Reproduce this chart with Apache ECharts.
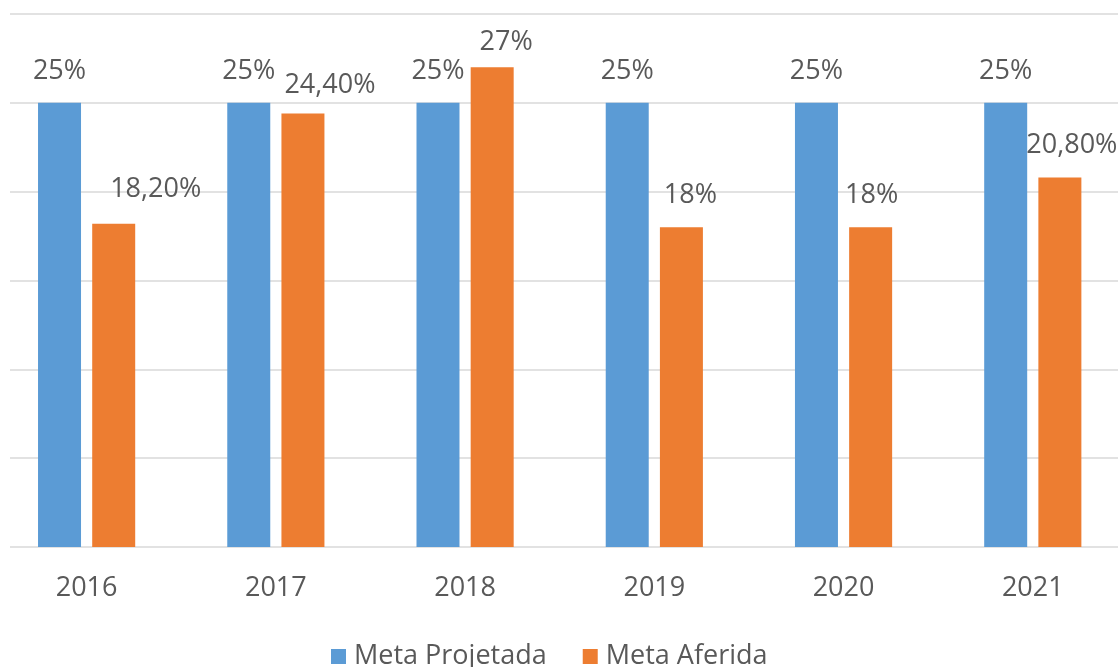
<!DOCTYPE html>
<html>
<head>
<meta charset="utf-8">
<script src="https://cdn.jsdelivr.net/npm/echarts@6/dist/echarts.min.js"></script>
<style>
  html, body { margin: 0; padding: 0; background: #fff; }
  #chart { width: 1118px; height: 667px; }
</style>
</head>
<body>
<div id="chart"></div>
<script>
const years = ['2016', '2017', '2018', '2019', '2020', '2021']
const metaProjetada = [25, 25, 25, 25, 25, 25]
const metaAferida = [18.2, 24.4, 27, 18, 18, 20.8]

const textColor = '#595959'
const fontFamily = 'Open Sans'

// Excel nudged the orange labels sideways, keep that look
const aferidaLabelShift = [[42, -2], [27, 4], [14, 7], [9, 0], [1, 0], [12, 0]]

function pct(v) {
  return Number.isInteger(v) ? v + '%' : v.toFixed(2).replace('.', ',') + '%'
}

const barLabel = {
  show: true,
  position: 'top',
  distance: 19,
  color: textColor,
  fontFamily,
  fontSize: 27,
  lineHeight: 26,
  formatter: p => pct(p.value)
}

const chart = echarts.init(document.getElementById('chart'), null, { renderer: 'canvas' })

chart.setOption({
  animation: false,
  textStyle: { fontFamily },
  legend: {
    left: 326,
    top: 638,
    itemWidth: 15,
    itemHeight: 15,
    itemGap: 36,
    icon: 'rect',
    textStyle: { color: textColor, fontSize: 27, fontFamily, padding: [0, 0, 0, 3] },
    data: ['Meta Projetada', 'Meta Aferida']
  },
  grid: [
    // grid used for the gridlines only
    { left: 10, right: 0, top: 14, height: 533, outerBoundsMode: 'none' },
    // grid holding the bars, wider than the view like the cropped original
    { left: -8, width: 1135.4, top: 14, height: 533, outerBoundsMode: 'none' }
  ],
  xAxis: [
    { gridIndex: 0, type: 'category', data: years, show: false },
    {
      gridIndex: 1,
      type: 'category',
      data: years,
      axisLine: { show: false },
      axisTick: { show: false },
      axisLabel: { color: textColor, fontSize: 27, fontFamily, margin: 28, lineHeight: 26 }
    }
  ],
  yAxis: [
    {
      gridIndex: 0,
      type: 'value',
      min: 0,
      max: 30,
      interval: 5,
      axisLine: { show: false },
      axisTick: { show: false },
      axisLabel: { show: false },
      splitLine: { lineStyle: { color: '#d9d9d9', width: 1.5 } }
    },
    {
      gridIndex: 1,
      type: 'value',
      min: 0,
      max: 30,
      interval: 5,
      show: false,
      splitLine: { show: false }
    }
  ],
  series: [
    {
      name: 'Meta Projetada',
      type: 'bar',
      xAxisIndex: 1,
      yAxisIndex: 1,
      barWidth: 43,
      barGap: '26%',
      itemStyle: { color: '#5B9BD5' },
      label: barLabel,
      data: metaProjetada
    },
    {
      name: 'Meta Aferida',
      type: 'bar',
      xAxisIndex: 1,
      yAxisIndex: 1,
      barWidth: 43,
      barGap: '26%',
      itemStyle: { color: '#ED7D31' },
      label: barLabel,
      data: metaAferida.map((v, i) => ({
        value: v,
        label: { offset: aferidaLabelShift[i] }
      }))
    }
  ]
})
</script>
</body>
</html>
